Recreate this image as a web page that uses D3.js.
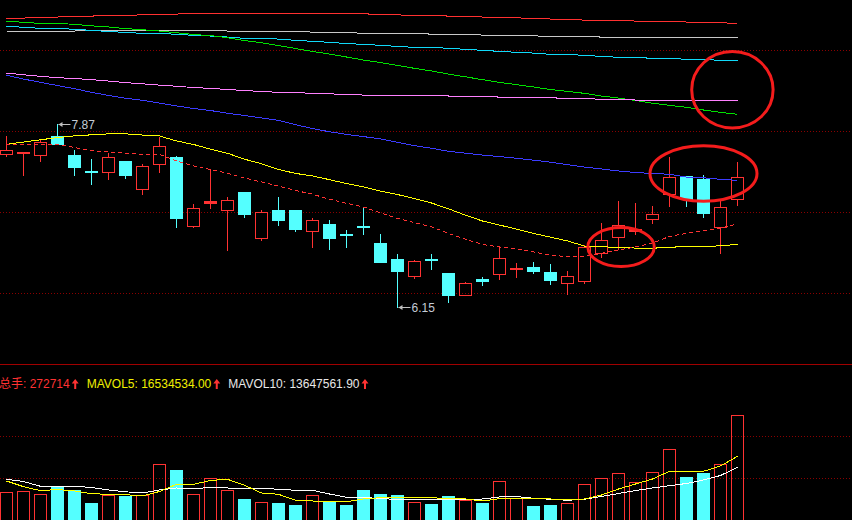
<!DOCTYPE html>
<html><head><meta charset="utf-8">
<script src="https://cdn.jsdelivr.net/npm/d3@7/dist/d3.min.js"></script>
<style>html,body{margin:0;padding:0;background:#000;overflow:hidden}svg{display:block}</style>
</head><body>
<svg id="chart" width="852" height="520"></svg>
<script>
// ---------- data ----------
const open  = [7.59,7.60,7.58,7.76,7.58,7.43,7.42,7.52,7.26,7.50,7.56,6.91,7.13,7.06,7.23,6.80,7.06,7.06,6.86,6.93,6.835,6.91,6.75,6.60,6.44,6.60,6.47,6.26,6.41,6.46,6.51,6.52,6.48,6.37,6.39,6.66,6.81,6.86,6.98,7.21,7.38,7.35,6.90,7.17];
const high  = [7.76,7.61,7.73,7.87,7.63,7.54,7.60,7.52,7.50,7.75,7.57,7.12,7.45,7.18,7.23,7.06,7.18,7.06,6.99,6.97,6.87,7.08,6.84,6.65,6.59,6.65,6.47,6.38,6.43,6.72,6.56,6.57,6.55,6.49,6.73,6.94,7.15,7.13,7.10,7.56,7.38,7.39,7.16,7.51];
const low   = [7.57,7.39,7.52,7.68,7.39,7.31,7.35,7.36,7.21,7.42,6.90,6.90,7.08,6.68,7.00,6.78,6.92,6.86,6.71,6.69,6.71,6.84,6.57,6.15,6.42,6.51,6.19,6.26,6.35,6.41,6.43,6.47,6.36,6.27,6.37,6.62,6.69,6.84,6.94,7.10,7.10,7.00,6.66,7.11];
const close = [7.63,7.61,7.70,7.68,7.47,7.42,7.56,7.39,7.48,7.67,6.99,7.08,7.15,7.16,7.02,7.04,6.97,6.88,6.97,6.80,6.83,6.90,6.57,6.49,6.58,6.595,6.26,6.37,6.39,6.61,6.515,6.49,6.40,6.44,6.71,6.78,6.92,6.88,7.02,7.37,7.17,7.03,7.09,7.37];

// moving averages (price)
const maYellow = [7.681,7.703,7.724,7.745,7.761,7.771,7.780,7.780,7.769,7.760,7.713,7.680,7.636,7.597,7.541,7.498,7.444,7.407,7.383,7.348,7.311,7.279,7.239,7.208,7.169,7.128,7.073,7.013,6.958,6.920,6.881,6.841,6.806,6.770,6.722,6.715,6.709,6.703,6.701,6.711,6.716,6.720,6.723,6.738];
const maRedDash = [7.679,7.675,7.681,7.684,7.651,7.623,7.609,7.599,7.587,7.587,7.524,7.477,7.444,7.408,7.364,7.326,7.288,7.246,7.211,7.163,7.125,7.090,7.036,6.982,6.942,6.904,6.840,6.786,6.737,6.713,6.694,6.666,6.637,6.621,6.626,6.653,6.685,6.713,6.751,6.812,6.842,6.864,6.892,6.930];
const maBlue = [8.332,8.297,8.266,8.236,8.206,8.172,8.142,8.116,8.096,8.071,8.044,8.019,8.000,7.975,7.953,7.930,7.907,7.866,7.830,7.800,7.775,7.754,7.733,7.701,7.669,7.644,7.616,7.598,7.580,7.566,7.550,7.532,7.513,7.490,7.467,7.449,7.430,7.416,7.406,7.399,7.373,7.366,7.351,7.342];
const maViolet = [8.354,8.337,8.323,8.310,8.302,8.291,8.278,8.263,8.252,8.240,8.229,8.217,8.209,8.198,8.189,8.179,8.172,8.170,8.162,8.157,8.153,8.146,8.143,8.143,8.143,8.143,8.137,8.134,8.132,8.127,8.124,8.124,8.120,8.115,8.113,8.106,8.106,8.099,8.096,8.096,8.096,8.096,8.096,8.096];
const maGreen = [8.844,8.832,8.822,8.822,8.813,8.799,8.788,8.773,8.762,8.750,8.734,8.717,8.707,8.687,8.660,8.640,8.613,8.585,8.557,8.533,8.505,8.476,8.453,8.425,8.398,8.373,8.344,8.318,8.291,8.266,8.244,8.222,8.198,8.181,8.162,8.137,8.118,8.095,8.069,8.049,8.031,8.005,7.983,7.964];
const maCyan = [8.797,8.785,8.775,8.775,8.766,8.756,8.745,8.737,8.728,8.728,8.719,8.709,8.703,8.693,8.681,8.681,8.674,8.662,8.653,8.643,8.632,8.624,8.615,8.605,8.596,8.596,8.587,8.577,8.568,8.558,8.549,8.542,8.530,8.530,8.520,8.511,8.502,8.502,8.492,8.492,8.483,8.483,8.473,8.473];
const maSilver = [8.747,8.747,8.747,8.747,8.750,8.754,8.756,8.756,8.756,8.756,8.756,8.756,8.754,8.750,8.747,8.747,8.747,8.745,8.740,8.737,8.736,8.728,8.728,8.728,8.726,8.721,8.719,8.717,8.712,8.709,8.709,8.704,8.700,8.700,8.698,8.693,8.690,8.690,8.690,8.690,8.690,8.690,8.690,8.690];
const maRed = [8.869,8.872,8.879,8.882,8.886,8.891,8.896,8.899,8.902,8.907,8.910,8.915,8.917,8.917,8.917,8.917,8.917,8.917,8.917,8.917,8.915,8.912,8.907,8.902,8.898,8.896,8.891,8.886,8.882,8.879,8.874,8.869,8.863,8.860,8.853,8.851,8.848,8.844,8.841,8.837,8.835,8.832,8.828,8.822];

// volume (手)
const volume = [71850,74450,66670,86380,77820,44100,64070,62260,64070,144490,129700,66670,108170,77040,54470,45910,44100,38910,64070,48510,38910,77820,67440,64850,45910,41500,62260,52660,44100,101170,57070,36320,38910,44100,92610,108170,121140,97790,123730,183400,111540,121920,144490,272714];
const mavol5  = [101170,86380,76000,79120,75230,68220,66670,65630,62260,73930,92610,92610,102460,105580,90010,70040,66670,51100,49290,47990,47470,54470,57850,57850,57850,57850,55250,54470,49290,55250,55770,55770,54470,51880,54470,64850,80410,93380,106350,126330,126330,126330,140080,165345];
const mavol10 = [105580,99870,87420,87420,87420,84310,77820,73150,70040,77820,83010,80410,84820,83010,82230,82230,79640,77040,77040,67440,58880,58880,55250,53700,53700,53700,53700,53700,54470,59660,60960,56290,53700,51100,53700,60960,68740,76520,83010,88970,94680,103760,115430,136476];

// grid levels
const priceGrid = [8.571, 7.807, 7.043, 6.279];
const volGrid = [108933, 217867];

// info texts
const infoItems = [
  {label: "总手: 272714", color: "#ff3232"},
  {label: "MAVOL5: 16534534.00", color: "#f0f000"},
  {label: "MAVOL10: 13647561.90", color: "#e8e8e8"}
];

// ---------- drawing ----------
const W = 852, H = 520;
const svg = d3.select("#chart");
svg.append("rect").attr("width", W).attr("height", H).attr("fill", "#000");

const idx = open.map((_, i) => i);
const x = d3.scaleLinear().domain([0, open.length - 1]).range([6.5, 737.5]);
const y = d3.scaleLinear().domain([6.279, 8.571]).range([293, 50]);
const yv = d3.scaleLinear().domain([0, 326800]).range([520, 394]);

const RED = "#ff3232", CYAN = "#54ffff", GRID = "#8a0000";
const px = v => Math.round(v) + 0.5;

// grids
svg.append("g").selectAll("line").data(priceGrid).join("line")
  .attr("x1", 0).attr("x2", W).attr("y1", d => px(y(d))).attr("y2", d => px(y(d)))
  .attr("stroke", GRID).attr("stroke-dasharray", "1,2");
svg.append("g").selectAll("line").data(volGrid).join("line")
  .attr("x1", 0).attr("x2", W).attr("y1", d => px(yv(d))).attr("y2", d => px(yv(d)))
  .attr("stroke", GRID).attr("stroke-dasharray", "1,2");
// panel separator
svg.append("line").attr("x1", 0).attr("x2", W).attr("y1", 364.5).attr("y2", 364.5)
  .attr("stroke", "#a00000");

// candles
const gC = svg.append("g").attr("shape-rendering", "crispEdges");
idx.forEach(i => {
  const o = open[i], c = close[i], h = high[i], l = low[i];
  const xc = x(i), left = xc - 6.5;
  const up = c >= o;
  const yt = Math.round(y(Math.max(o, c))), yb = Math.round(y(Math.min(o, c)));
  const col = up ? RED : CYAN;
  if (up) {
    gC.append("line").attr("x1", xc).attr("x2", xc).attr("y1", Math.round(y(h))).attr("y2", yt).attr("stroke", col);
    gC.append("line").attr("x1", xc).attr("x2", xc).attr("y1", yb).attr("y2", Math.round(y(l)) + 1).attr("stroke", col);
    gC.append("rect").attr("x", left + 0.5).attr("y", yt + 0.5).attr("width", 12)
      .attr("height", Math.max(yb - yt, 1)).attr("fill", yb - yt <= 2 ? col : "none").attr("stroke", col);
  } else {
    gC.append("line").attr("x1", xc).attr("x2", xc).attr("y1", Math.round(y(h))).attr("y2", Math.round(y(l)) + 1).attr("stroke", col);
    gC.append("rect").attr("x", left).attr("y", yt).attr("width", 13)
      .attr("height", Math.max(yb - yt, 1) + 1).attr("fill", col);
  }
});

// moving average lines
const lineP = arr => d3.line().x((d, i) => x(i)).y(d => y(d))(arr);
const maDefs = [
  {d: maRed, c: "#ff3030"}, {d: maSilver, c: "#c8c8c8"}, {d: maCyan, c: "#10d8f8"},
  {d: maGreen, c: "#00e000"}, {d: maViolet, c: "#ff80ff"}, {d: maBlue, c: "#3c3cff"},
  {d: maYellow, c: "#ffff00"}
];
maDefs.forEach(m => {
  svg.append("path").attr("d", lineP(m.d)).attr("fill", "none").attr("stroke", m.c)
    .attr("stroke-width", 1).attr("shape-rendering", "crispEdges");
});
svg.append("path").attr("d", lineP(maRedDash)).attr("fill", "none").attr("stroke", RED)
  .attr("stroke-width", 1).attr("stroke-dasharray", "4,3").attr("shape-rendering", "crispEdges");

// high / low markers
function marker(i, price) {
  const xc = x(i), yy = Math.round(y(price)) + 0.5;
  const g = svg.append("g");
  g.append("line").attr("x1", xc + 1).attr("x2", xc + 13).attr("y1", yy).attr("y2", yy).attr("stroke", "#c0c0c0");
  g.append("path").attr("d", `M${xc + 1},${yy} L${xc + 5},${yy - 2.5} L${xc + 5},${yy + 2.5} Z`).attr("fill", "#c0c0c0");
  g.append("text").attr("x", xc + 14).attr("y", yy + 4.3).text(price.toFixed(2))
    .attr("fill", "#c4ccd6").attr("font-family", "'Liberation Sans', Arial, sans-serif").attr("font-size", 12);
}
const iMax = d3.maxIndex(high), iMin = d3.minIndex(low);
marker(iMax, high[iMax]);
marker(iMin, low[iMin]);

// annotation ellipses (anchored in data coordinates)
const notes = [{i: 42.7, p: 8.196, rx: 40.7, ry: 38.2}, {i: 41.0, p: 7.406, rx: 53.5, ry: 27.7}, {i: 36.15, p: 6.713, rx: 33.2, ry: 19.5}];
svg.append("g").selectAll("ellipse").data(notes).join("ellipse")
  .attr("cx", d => x(d.i)).attr("cy", d => y(d.p)).attr("rx", d => d.rx).attr("ry", d => d.ry)
  .attr("fill", "none").attr("stroke", "#f41c1c").attr("stroke-width", 3);

// volume bars
const gV = svg.append("g").attr("shape-rendering", "crispEdges");
idx.forEach(i => {
  const xc = x(i), left = xc - 6.5;
  const up = close[i] >= open[i];
  const top = Math.round(yv(volume[i]));
  if (up) {
    gV.append("rect").attr("x", left + 0.5).attr("y", top + 0.5).attr("width", 12).attr("height", H - top + 5)
      .attr("fill", "none").attr("stroke", RED);
  } else {
    gV.append("rect").attr("x", left).attr("y", top).attr("width", 13).attr("height", H - top)
      .attr("fill", CYAN);
  }
});
const lineV = arr => d3.line().x((d, i) => x(i)).y(d => yv(d))(arr);
svg.append("path").attr("d", lineV(mavol10)).attr("fill", "none").attr("stroke", "#ffffff").attr("shape-rendering", "crispEdges");
svg.append("path").attr("d", lineV(mavol5)).attr("fill", "none").attr("stroke", "#ffff00").attr("shape-rendering", "crispEdges");

// info line
let cx = -1;
const gI = svg.append("g").attr("font-family", "'Liberation Sans', Arial, 'Noto Sans CJK SC', sans-serif").attr("font-size", 12);
infoItems.forEach(it => {
  const t = gI.append("text").attr("x", cx).attr("y", 388).attr("fill", it.color).text(it.label);
  const w = t.node().getComputedTextLength();
  const ax = cx + w + 5.5;
  gI.append("path").attr("d", `M${ax},379 L${ax + 3.5},383.5 L${ax + 1},383.5 L${ax + 1},389 L${ax - 1},389 L${ax - 1},383.5 L${ax - 3.5},383.5 Z`)
    .attr("fill", RED);
  cx = ax + 11.5;
});
</script>
</body></html>
